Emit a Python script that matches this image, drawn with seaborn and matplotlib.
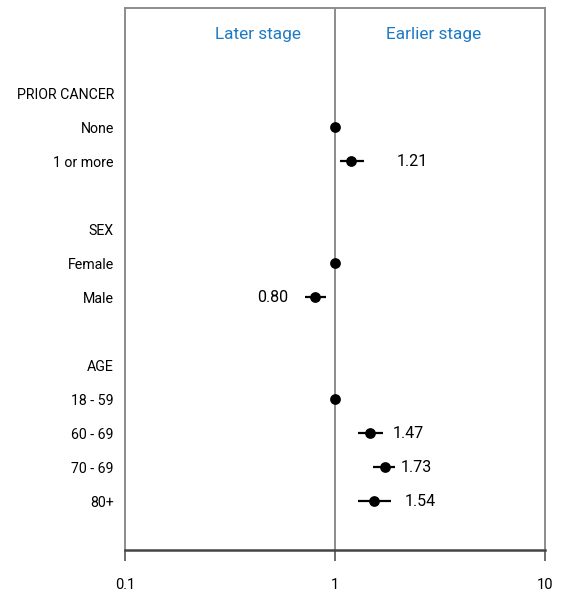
import matplotlib
matplotlib.use("Agg")
import matplotlib.pyplot as plt
import seaborn as sns
import pandas as pd
import numpy as np

# ---- data ----
row_labels = ["PRIOR CANCER", "None", "1 or more", "", "SEX", "Female", "Male", "",
              "AGE", "18 - 59", "60 - 69", "70 - 69", "80+"]
est_rows = ["None", "1 or more", "Female", "Male", "18 - 59", "60 - 69", "70 - 69", "80+"]
estimates = [1.0, 1.19, 1.0, 0.80, 1.0, 1.47, 1.73, 1.54]
ci_low = [1.0, 1.06, 1.0, 0.72, 1.0, 1.29, 1.52, 1.29]
ci_high = [1.0, 1.37, 1.0, 0.91, 1.0, 1.69, 1.93, 1.84]
value_labels = ["", "1.21", "", "0.80", "", "1.47", "1.73", "1.54"]
label_x = [None, 1.97, None, 0.597, None, 1.89, 2.06, 2.15]
label_ha = [None, "left", None, "right", None, "left", "left", "left"]
header_labels = ["Later stage", "Earlier stage"]
header_x = [0.43, 2.96]
x_ticks = [0.1, 1, 10]
x_ticklabels = ["0.1", "1", "10"]

sns.set_theme(style="white")
plt.rcParams["font.family"] = ["Roboto", "DejaVu Sans"]

df = pd.DataFrame({"row": [row_labels.index(r) for r in est_rows],
                   "est": estimates, "lo": ci_low, "hi": ci_high})

fig = plt.figure(figsize=(5.62, 5.96), dpi=100)
ax = fig.add_axes([125 / 562, 1 - 550 / 596, 420 / 562, 542 / 596])

ax.hlines(df["row"], df["lo"], df["hi"], color="black", lw=1.6, zorder=3)
sns.scatterplot(data=df, x="est", y="row", color="black", s=60, edgecolor="black",
                linewidth=0, ax=ax, zorder=4)

ax.set_xscale("log")
ax.set_xlim(0.1, 10)
ax.set_ylim(13.44, -2.5)
ax.axvline(1, color="#8c8c8c", lw=1.4, zorder=1)

for r, t, lx, ha in zip(df["row"], value_labels, label_x, label_ha):
    if t:
        ax.text(lx, r, t, ha=ha, va="center", fontsize=11.5, color="black")

for t, hx in zip(header_labels, header_x):
    ax.text(hx, -1.72, t, ha="center", va="center", fontsize=12.4, color="#1f7ac4")

ax.set_yticks(range(len(row_labels)))
ax.set_yticklabels(row_labels, fontsize=10.2)
ax.tick_params(axis="y", length=0, pad=8, labelcolor="black")

ax.set_xticks(x_ticks)
ax.set_xticklabels(x_ticklabels, fontsize=10.5)
ax.xaxis.set_minor_locator(matplotlib.ticker.NullLocator())
ax.tick_params(axis="x", direction="out", length=8, width=1.2, color="#555555",
               pad=12, bottom=True, labelcolor="black")

for s in ["top", "left", "right"]:
    ax.spines[s].set_color("#8c8c8c")
    ax.spines[s].set_linewidth(1.4)
ax.spines["bottom"].set_color("#444444")
ax.spines["bottom"].set_linewidth(1.8)
ax.set_xlabel("")
ax.set_ylabel("")

fig.savefig("out.png", dpi=100)
